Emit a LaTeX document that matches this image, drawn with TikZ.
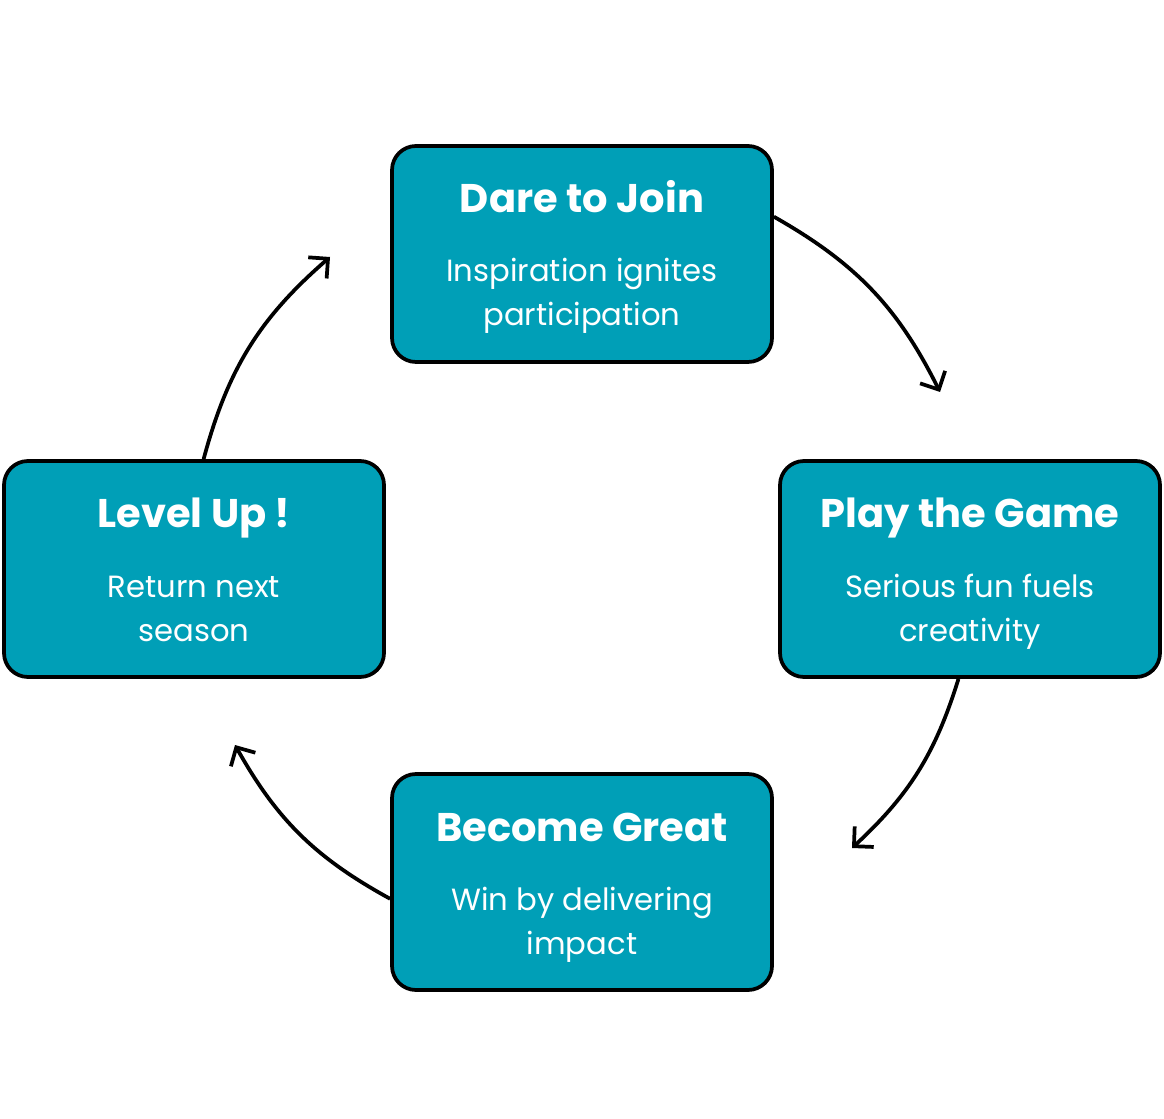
\documentclass[tikz,border=0pt]{standalone}
\usepackage{fontspec}
\setmainfont{Poppins}
\usetikzlibrary{arrows.meta}
\definecolor{cardteal}{HTML}{009FB7}

\begin{document}
\begin{tikzpicture}[x=0.75pt, y=-0.75pt,
  card/.style={draw=black, line width=2.8pt, fill=cardteal, rounded corners=18pt,
    minimum width=285pt, minimum height=162pt},
  cardtitle/.style={text=white, anchor=base, font=\bfseries\fontsize{30}{36}\selectfont},
  cardtext/.style={text=white, align=center, anchor=base, font=\fontsize{23}{33}\selectfont},
  flow/.style={line width=2.8pt, -{Straight Barb[length=10.5pt, width=21pt]}},
]
  \useasboundingbox (0,0) rectangle (1164,1119);
  % the four stages
  \node[card] (dare)   at (582,254) {};
  \node[card] (play)   at (970,569) {};
  \node[card] (become) at (582,882) {};
  \node[card] (level)  at (194,569) {};
  \node[cardtitle] (dare-t)   at (582,213) {Dare to Join};
  \node[cardtitle] (play-t)   at (970,528) {Play the Game};
  \node[cardtitle] (become-t) at (582,841) {Become Great};
  \node[cardtitle] (level-t)  at (194,528) {Level Up !};
  \node[cardtext] (dare-b)   at (582,326) {Inspiration ignites\\participation};
  \node[cardtext] (play-b)   at (970,641) {Serious fun fuels\\creativity};
  \node[cardtext] (become-b) at (582,954) {Win by delivering\\impact};
  \node[cardtext] (level-b)  at (194,641) {Return next\\season};
  % cycle arrows
  \coordinate (tip1) at (940,392);
  \coordinate (tip2) at (852,848);
  \coordinate (tip3) at (235,745);
  \coordinate (tip4) at (330,257);
  \draw[flow] (dare.11)    to[bend left=17] (tip1);
  \draw[flow] (play.264)   to[bend left=15] (tip2);
  \draw[flow] (become.185) to[bend left=16] (tip3);
  \draw[flow] (level.85)   to[bend left=17] (tip4);
\end{tikzpicture}
\end{document}
